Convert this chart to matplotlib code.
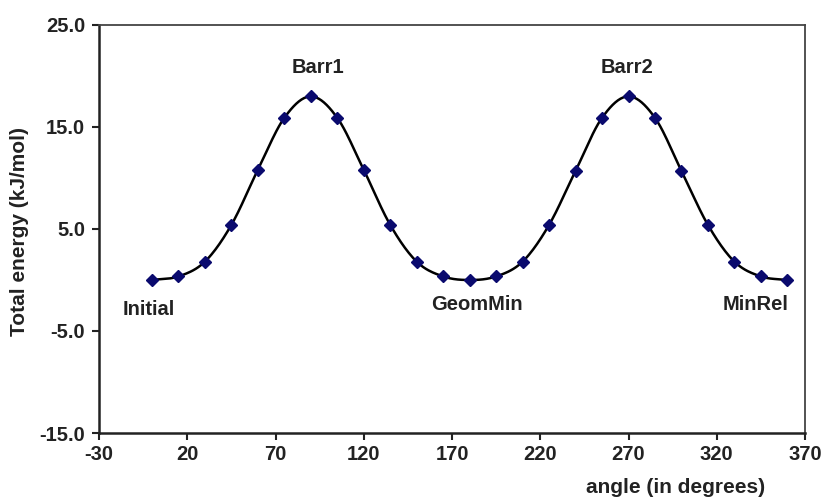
import numpy as np
import matplotlib
matplotlib.use("Agg")
import matplotlib.pyplot as plt

angles = [0, 15, 30, 45, 60, 75, 90, 105, 120, 135, 150, 165, 180,
          195, 210, 225, 240, 255, 270, 285, 300, 315, 330, 345, 360]
energy = [0.0, 0.35, 1.8, 5.4, 10.8, 15.9, 18.0, 15.9, 10.8, 5.4, 1.8, 0.35, 0.0,
          0.35, 1.8, 5.4, 10.7, 15.9, 18.0, 15.9, 10.7, 5.4, 1.8, 0.35, 0.0]
labels = ["Initial", "Barr1", "GeomMin", "Barr2", "MinRel"]
label_x = [-2, 94, 184, 269, 342]
label_y = [-2.9, 20.8, -2.4, 20.8, -2.4]
xticks = [-30, 20, 70, 120, 170, 220, 270, 320, 370]
yticks = [-15, -5, 5, 15, 25]

plt.rcParams['font.family'] = ['Liberation Sans', 'DejaVu Sans']
plt.rcParams['font.weight'] = 'bold'


def catmull_rom(x, y, n=20):
    x = np.asarray(x, float)
    y = np.asarray(y, float)
    px = np.concatenate([[2 * x[0] - x[1]], x, [2 * x[-1] - x[-2]]])
    py = np.concatenate([[2 * y[0] - y[1]], y, [2 * y[-1] - y[-2]]])
    xs, ys = [], []
    t = np.linspace(0, 1, n, endpoint=False)
    for i in range(1, len(px) - 2):
        for arr, out in ((px, xs), (py, ys)):
            p0, p1, p2, p3 = arr[i - 1], arr[i], arr[i + 1], arr[i + 2]
            out.append(0.5 * ((2 * p1) + (-p0 + p2) * t
                              + (2 * p0 - 5 * p1 + 4 * p2 - p3) * t ** 2
                              + (-p0 + 3 * p1 - 3 * p2 + p3) * t ** 3))
    xs.append([x[-1]])
    ys.append([y[-1]])
    return np.concatenate(xs), np.concatenate(ys)


fig = plt.figure(figsize=(8.21, 4.98), dpi=100)
ax = fig.add_axes([99 / 821, 65 / 498, 706 / 821, 408 / 498])

sx, sy = catmull_rom(angles, energy)
ax.plot(sx, sy, color='black', lw=1.8, zorder=2)
ax.plot(angles, energy, linestyle='none', marker='D', markersize=6.5,
        color='#0a0a6e', markeredgecolor='#0a0a6e', zorder=3)

for t, lx, ly in zip(labels, label_x, label_y):
    ax.text(lx, ly, t, ha='center', va='center', fontsize=14.5,
            fontweight='bold', color='#222222')

ax.set_xlim(-30, 370)
ax.set_ylim(-15, 25)
ax.set_xticks(xticks)
ax.set_xticklabels([str(v) for v in xticks])
ax.set_yticks(yticks)
ax.set_yticklabels([f"{v:.1f}" for v in yticks])
ax.tick_params(axis='both', direction='out', length=5, width=1.5,
               labelsize=14.5, colors='#222222')
ax.tick_params(axis='y', pad=5)
for s in ['left', 'bottom']:
    ax.spines[s].set_color('#222222')
    ax.spines[s].set_linewidth(1.8)
for s in ['top', 'right']:
    ax.spines[s].set_color('#444444')
    ax.spines[s].set_linewidth(1.3)

fig.text(20 / 821, 1 - 231 / 498, "Total energy (kJ/mol)", rotation=90,
         ha='center', va='center', fontsize=15, fontweight='bold', color='#222222')
fig.text(676 / 821, 1 - 487 / 498, "angle (in degrees)",
         ha='center', va='center', fontsize=15, fontweight='bold', color='#222222')

fig.savefig("out.png", dpi=100, facecolor='white')
